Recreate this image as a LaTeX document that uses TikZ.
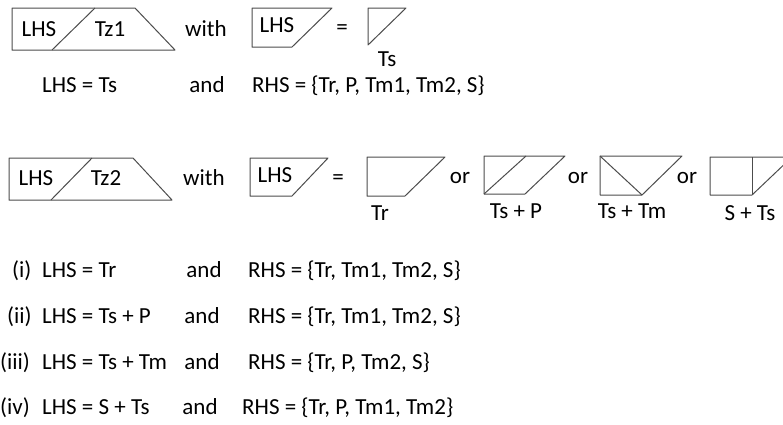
\documentclass[tikz,border=0pt]{standalone}
\usepackage{fontspec}
\setmainfont{Carlito}
\tikzstyle{txt}=[inner sep=0pt,anchor=base,font=\fontsize{23}{27}\selectfont]
\tikzstyle{ltxt}=[txt,anchor=base west]
\tikzstyle{shp}=[line width=1pt,draw=black!70,line join=round]

\begin{document}
\begin{tikzpicture}[x=1pt,y=-1pt]
\useasboundingbox (0,0) rectangle (783,424);
\clip (0,0) rectangle (783,424);
% rule Tz1
\draw[shp] (12,8)--(135,8)--(175,50)--(12,50)--cycle; \draw[shp] (95,8)--(52,50);
\node[txt] (lhsA) at (39,36) {LHS};
\node[txt] (tzA) at (110,36) {Tz1};
\node[txt] (withA) at (206,36) {with};
\draw[shp] (252,8)--(332,8)--(292,47)--(252,47)--cycle;
\node[txt] (lhsAb) at (277,32) {LHS};
\node[txt] (eqA) at (342,34) {=};
\draw[shp] (368,8)--(406,8)--(368,45)--cycle;
\node[txt] (tsA) at (387,66) {Ts};
\node[ltxt] (leftA) at (42,92) {LHS = Ts};
\node[txt] (andA) at (207,92) {and};
\node[ltxt] (rightA) at (252,92) {RHS = \{Tr, P, Tm1, Tm2, S\}};
% rule Tz2
\draw[shp] (9,158)--(133,158)--(172,200)--(9,200)--cycle; \draw[shp] (92,158)--(51,200);
\node[txt] (lhsB) at (36,185) {LHS};
\node[txt] (tzB) at (106,185) {Tz2};
\node[txt] (withB) at (204,185) {with};
\draw[shp] (250,158)--(328,158)--(292,196)--(250,196)--cycle;
\node[txt] (lhsBb) at (275,182) {LHS};
\node[txt] (eqB) at (338,184) {=};
% Tr
\draw[shp] (367,157)--(445,157)--(405,196)--(367,196)--cycle;
\node[txt] (trB) at (380,220) {Tr};
\node[txt] (orA) at (460,183) {or};
% Ts + P
\draw[shp] (484,156)--(565,156)--(525,194)--(484,194)--cycle; \draw[shp] (526,156)--(484,194);
\node[txt] (tspB) at (516,218) {Ts + P};
\node[txt] (orB) at (578,183) {or};
% Ts + Tm
\draw[shp] (600,156)--(682,156)--(642,195)--(600,195)--cycle; \draw[shp] (600,156)--(642,195);
\node[txt] (tstmB) at (632,218) {Ts + Tm};
\node[txt] (orC) at (687,183) {or};
% S + Ts
\draw[shp] (710,157)--(792,157)--(752,195)--(710,195)--cycle; \draw[shp] (752,157)--(752,195);
\node[txt] (stsB) at (750,220) {S + Ts};
% cases
\node[ltxt] (caseI) at (12,277) {(i)};
\node[ltxt] (leftI) at (42,277) {LHS = Tr};
\node[txt] (andI) at (204,277) {and};
\node[ltxt] (rightI) at (248,277) {RHS = \{Tr, Tm1, Tm2, S\}};
\node[ltxt] (caseII) at (7,323) {(ii)};
\node[ltxt] (leftII) at (42,323) {LHS = Ts + P};
\node[txt] (andII) at (202,323) {and};
\node[ltxt] (rightII) at (248,323) {RHS = \{Tr, Tm1, Tm2, S\}};
\node[ltxt] (caseIII) at (0,369) {(iii)};
\node[ltxt] (leftIII) at (42,369) {LHS = Ts + Tm};
\node[txt] (andIII) at (202,369) {and};
\node[ltxt] (rightIII) at (248,369) {RHS = \{Tr, P, Tm2, S\}};
\node[ltxt] (caseIV) at (0,414) {(iv)};
\node[ltxt] (leftIV) at (42,414) {LHS = S + Ts};
\node[txt] (andIV) at (200,414) {and};
\node[ltxt] (rightIV) at (242,414) {RHS = \{Tr, P, Tm1, Tm2\}};
\end{tikzpicture}
\end{document}
